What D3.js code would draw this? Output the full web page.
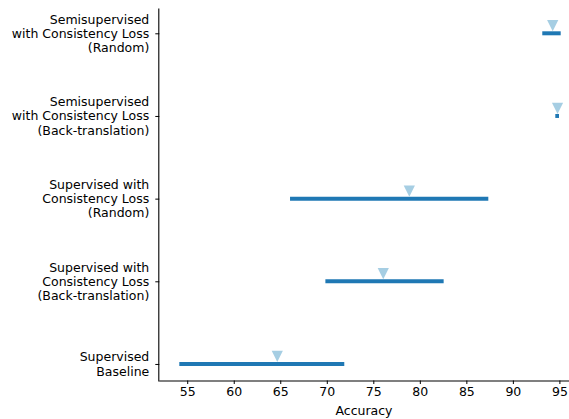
<!DOCTYPE html>
<html>
<head>
<meta charset="utf-8">
<script src="https://cdn.jsdelivr.net/npm/d3@7"></script>
<style>
  html, body { margin: 0; padding: 0; background: #fff; }
  svg { display: block; font-family: "DejaVu Sans", sans-serif; }
</style>
</head>
<body>
<svg id="chart" width="569" height="419"></svg>
<script>
// Data (bottom to top)
const categories = [
  "Supervised\nBaseline",
  "Supervised with\nConsistency Loss\n(Back-translation)",
  "Supervised with\nConsistency Loss\n(Random)",
  "Semisupervised\nwith Consistency Loss\n(Back-translation)",
  "Semisupervised\nwith Consistency Loss\n(Random)"
];
const lowValues = [54.15, 69.85, 66.05, 94.56, 93.16];
const highValues = [71.88, 82.56, 87.36, 94.96, 95.14];
const pointValues = [64.68, 76.07, 78.87, 94.8, 94.28];
const xTicks = [55, 60, 65, 70, 75, 80, 85, 90, 95];
const xLabel = "Accuracy";

const margin = { left: 159.3, right: 0.3, top: 8.5, bottom: 38.5 };
const W = 569, H = 419;
const svg = d3.select("#chart");

const x = d3.scaleLinear().domain([52, 96]).range([margin.left, W - margin.right]);
const y = d3.scaleLinear().domain([-0.2, 4.3]).range([H - margin.bottom, margin.top]);

const barColor = "#1f78b4";
const markColor = "#a6cee3";

// bars (ranges)
svg.append("g").selectAll("line")
  .data(categories)
  .join("line")
  .attr("x1", (d, i) => x(lowValues[i]))
  .attr("x2", (d, i) => x(highValues[i]))
  .attr("y1", (d, i) => y(i))
  .attr("y2", (d, i) => y(i))
  .attr("stroke", barColor)
  .attr("stroke-width", 4);

// markers: triangle down (matplotlib 'v' style)
const s = 5.6;
const triPath = `M0,${s}L${-s},${-s}L${s},${-s}Z`;
svg.append("g").selectAll("path")
  .data(categories)
  .join("path")
  .attr("d", triPath)
  .attr("transform", (d, i) => `translate(${x(pointValues[i])},${y(i + 0.092)})`)
  .attr("fill", markColor);

// x axis
const xAxis = d3.axisBottom(x).tickValues(xTicks).tickSize(3.5).tickPadding(3.5);
const gx = svg.append("g")
  .attr("transform", `translate(0,${H - margin.bottom})`)
  .call(xAxis);
gx.select(".domain").attr("d", `M${margin.left},0.5H${W}`).attr("stroke-width", 1.1);
gx.selectAll(".tick text").attr("font-size", 12.5).attr("fill", "#000").attr("font-family", "DejaVu Sans");

svg.append("text")
  .attr("x", (margin.left + W - margin.right) / 2)
  .attr("y", 415)
  .attr("text-anchor", "middle")
  .attr("font-size", 12.5)
  .text(xLabel);

// y axis
const yAxis = d3.axisLeft(y).tickValues(d3.range(categories.length)).tickSize(4).tickFormat("");
const gy = svg.append("g")
  .attr("transform", `translate(${margin.left},0)`)
  .call(yAxis);
gy.select(".domain").attr("d", `M-0.5,${margin.top}V${H - margin.bottom + 1}`).attr("stroke-width", 1.1);

// multi-line y labels
const lineH = 14.3;
const gl = svg.append("g");
categories.forEach((c, i) => {
  const lines = c.split("\n");
  const t = gl.append("text")
    .attr("text-anchor", "end")
    .attr("font-size", 12.5)
    .attr("fill", "#000");
  const yc = y(i);
  const n = lines.length;
  lines.forEach((ln, k) => {
    t.append("tspan")
      .attr("x", margin.left - 10)
      .attr("y", yc + (k - (n - 1) / 2) * lineH + 4.5)
      .text(ln);
  });
});
</script>
</body>
</html>
